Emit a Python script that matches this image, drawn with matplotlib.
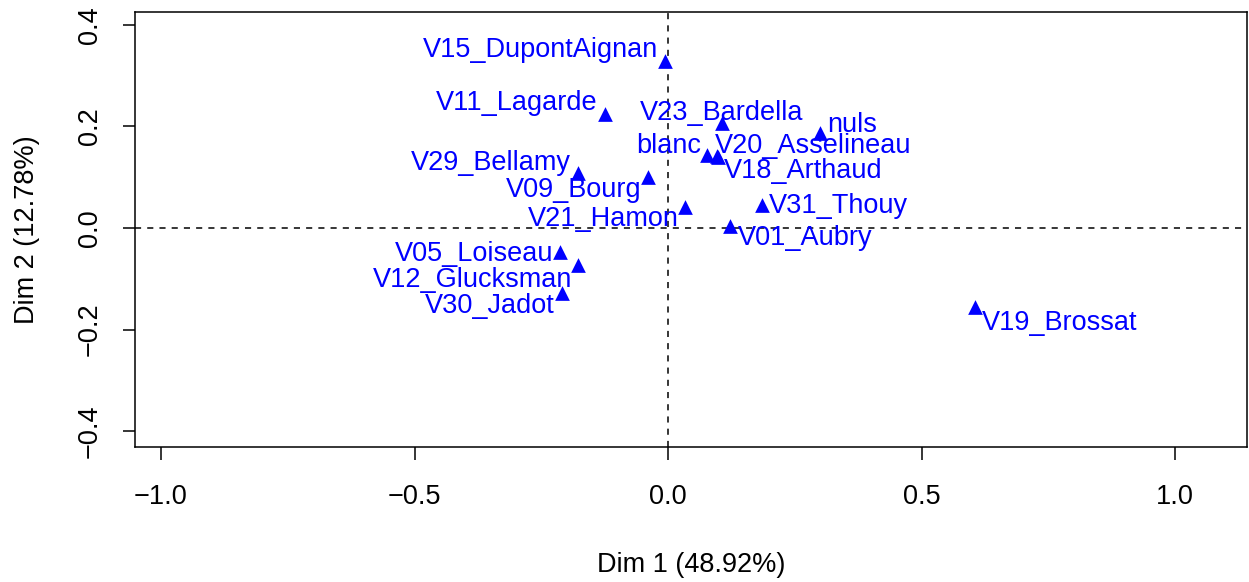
import matplotlib
matplotlib.use("Agg")
import matplotlib.pyplot as plt
from matplotlib.ticker import FixedLocator, FuncFormatter

plt.rcParams['font.family'] = ['Liberation Sans', 'DejaVu Sans']

# Coordinates of the supplementary categories on the first factorial plane
labels = ["V15_DupontAignan", "V11_Lagarde", "V23_Bardella", "nuls", "blanc",
          "V20_Asselineau", "V18_Arthaud", "V29_Bellamy", "V09_Bourg", "V21_Hamon",
          "V31_Thouy", "V01_Aubry", "V05_Loiseau", "V12_Glucksman", "V30_Jadot",
          "V19_Brossat"]
dim1 = [-0.005, -0.124, 0.106, 0.300, 0.076,
        0.096, 0.099, -0.177, -0.039, 0.034,
        0.185, 0.122, -0.213, -0.177, -0.210,
        0.606]
dim2 = [0.329, 0.225, 0.206, 0.187, 0.144,
        0.141, 0.139, 0.108, 0.101, 0.042,
        0.045, 0.004, -0.047, -0.073, -0.129,
        -0.156]

xticks = [-1.0, -0.5, 0.0, 0.5, 1.0]
yticks = [-0.4, -0.2, 0.0, 0.2, 0.4]
xlabel = "Dim 1 (48.92%)"
ylabel = "Dim 2 (12.78%)"

# label placement (pixel offsets of the text's left baseline from each point)
label_offsets = [(-243, 4), (-169, 4), (-82, 3), (7, 1), (-70, 2),
                 (-2, 3), (6, -21), (-167, 3), (-142, -20), (-157, -19),
                 (7, -8), (8, -19), (-165, -9), (-205, -22), (-137, -20),
                 (7, -23)]

W, H = 1249, 582
fig = plt.figure(figsize=(W / 100, H / 100), dpi=100)
ax = fig.add_axes([135 / W, 1 - 447 / H, (1247 - 135) / W, (447 - 12) / H])

ax.set_xlim(-1.0513, 1.1420)
ax.set_ylim(-0.4315, 0.4256)

ax.axhline(0, color='black', lw=1.1, ls=(0, (4, 4)), zorder=1)
ax.axvline(0, color='black', lw=1.1, ls=(0, (4, 4)), zorder=1)

ax.scatter(dim1, dim2, marker='^', s=112, color='#0000FF', linewidths=0, zorder=3)

fs = 19.5
for name, x, y, off in zip(labels, dim1, dim2, label_offsets):
    ax.annotate(name, (x, y), xytext=off, textcoords='offset pixels',
                ha='left', va='baseline', color='#0000FF', fontsize=fs, zorder=4)

minus = FuncFormatter(lambda v, p: f"{v:.1f}".replace('-', '\u2212'))
ax.xaxis.set_major_locator(FixedLocator(xticks))
ax.yaxis.set_major_locator(FixedLocator(yticks))
ax.xaxis.set_major_formatter(minus)
ax.yaxis.set_major_formatter(minus)

ax.tick_params(axis='both', direction='out', length=9, width=1.1,
               labelsize=fs, color='black')
ax.tick_params(axis='x', pad=18)
ax.tick_params(axis='y', pad=14)
for lbl in ax.get_yticklabels():
    lbl.set_rotation(90)
    lbl.set_va('center')

for sp in ax.spines.values():
    sp.set_linewidth(1.1)

ax.set_xlabel(xlabel, fontsize=fs)
ax.xaxis.set_label_coords(0.5, (447 - 565) / 435)
ax.xaxis.label.set_va('center')
ax.set_ylabel(ylabel, fontsize=fs)
ax.yaxis.set_label_coords((27 - 135) / 1112, 0.5)
ax.yaxis.label.set_va('center')
ax.yaxis.label.set_ha('center')

fig.savefig("out.png", dpi=100)
